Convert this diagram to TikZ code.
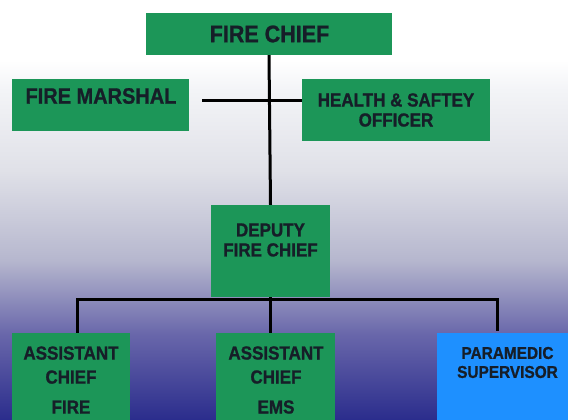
\documentclass[tikz,border=0pt]{standalone}
\usepackage{fontspec}
\setmainfont{Liberation Sans}
\newfontfamily\orgfont{Liberation Sans Bold}[FakeStretch=0.9, FakeBold=1]
\definecolor{boxgreen}{RGB}{28,150,88}
\definecolor{boxblue}{RGB}{30,144,255}
\definecolor{inkdark}{RGB}{22,30,40}
\definecolor{bgA}{RGB}{243,244,247}
\definecolor{bgB}{RGB}{224,225,232}
\definecolor{bgC}{RGB}{182,183,206}
\definecolor{bgD}{RGB}{104,102,170}
\definecolor{bgE}{RGB}{42,44,140}
\tikzset{
  orgbox/.style={rectangle, fill=boxgreen, inner sep=0pt},
  orgtxt/.style={text=inkdark, align=center, inner sep=0pt},
  link/.style={line width=3pt, black}
}
\begin{document}
\begin{tikzpicture}[x=1pt, y=-1pt]
  \useasboundingbox (0,0) rectangle (568,420);
  \clip (0,0) rectangle (568,420);
    %%background
    \fill[white] (0,0) rectangle (568,60);
    \shade[top color=white, bottom color=bgA] (0,60) rectangle (568,90);
    \shade[top color=bgA, bottom color=bgB] (0,90) rectangle (568,170);
    \shade[top color=bgB, bottom color=bgC] (0,170) rectangle (568,260);
    \shade[top color=bgC, bottom color=bgD] (0,260) rectangle (568,335);
    \shade[top color=bgD, bottom color=bgE] (0,335) rectangle (568,421);

    %%boxes
    \node[orgbox, minimum width=246pt, minimum height=42pt] (chief) at (269,34){};
    \node[orgbox, minimum width=177pt, minimum height=52pt] (marshal) at (100,105){};
    \node[orgbox, minimum width=188pt, minimum height=61pt] (safety) at (396,110){};
    \node[orgbox, minimum width=119pt, minimum height=92pt] (deputy) at (270.5,251){};
    \node[orgbox, minimum width=118pt, minimum height=94pt] (asstfire) at (71,380){};
    \node[orgbox, minimum width=119pt, minimum height=94pt] (asstems) at (275.5,380){};
    \node[orgbox, fill=boxblue, minimum width=140pt, minimum height=94pt] (paramedic) at (507,380){};

    %%texts
    \node[orgtxt, font=\orgfont\fontsize{23.9}{26}\selectfont] (chiefT) at (269.5,34){FIRE CHIEF};
    \node[orgtxt, font=\orgfont\fontsize{22.2}{24}\selectfont] (marshalT) at (101,96){FIRE MARSHAL};
    \node[orgtxt, font=\orgfont\fontsize{18.9}{20}\selectfont] (safetyT) at (396,110){HEALTH \& SAFTEY\\OFFICER};
    \node[orgtxt, font=\orgfont\fontsize{18.9}{20}\selectfont] (deputyT) at (270.5,240){DEPUTY\\FIRE CHIEF};
    \node[orgtxt, font=\orgfont\fontsize{18.9}{24}\selectfont] (fireT) at (71,380){ASSISTANT\\CHIEF\\[6pt]FIRE};
    \node[orgtxt, font=\orgfont\fontsize{18.9}{24}\selectfont] (emsT) at (276,380){ASSISTANT\\CHIEF\\[6pt]EMS};
    \node[orgtxt, font=\orgfont\fontsize{17.1}{19}\selectfont] (paraT) at (507.5,362.5){PARAMEDIC\\SUPERVISOR};

    %%links
    \coordinate (mjoin) at (202,101);
    \coordinate (busL) at (77,299);
    \coordinate (busR) at (497,299);
    \draw[link] (chief.south) to (deputy.north);
    \draw[link] (mjoin) to (safety.west |- mjoin);
    \draw[link] (busL |- asstfire.north) to (busL) to (busR) to ([yshift=2pt]busR |- paramedic.north);
    \draw[link] (deputy.south) to (deputy.south |- asstems.north);
\end{tikzpicture}
\end{document}
